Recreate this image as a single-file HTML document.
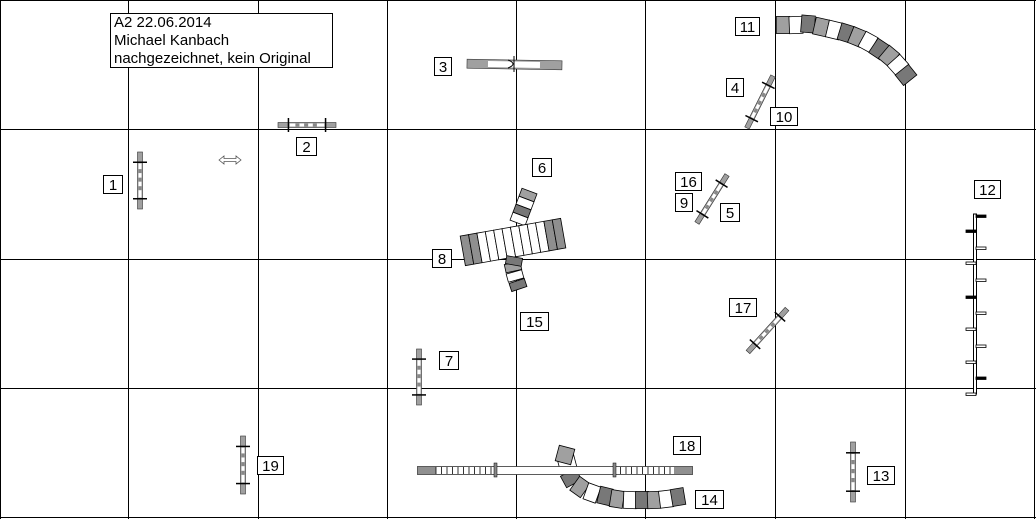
<!DOCTYPE html>
<html><head><meta charset="utf-8">
<style>
html,body{margin:0;padding:0;background:#fff;}
svg{display:block;}
text{font-family:"Liberation Sans",sans-serif;font-size:15px;fill:#000;}
</style></head>
<body>
<svg id="s" width="1036" height="519" xmlns="http://www.w3.org/2000/svg">
<rect x="0" y="0" width="1036" height="519" fill="#fff"/>
<g stroke="#000" stroke-width="1">
<line x1="0.5" y1="0" x2="0.5" y2="519"/>
<line x1="128.5" y1="0" x2="128.5" y2="519"/>
<line x1="258.5" y1="0" x2="258.5" y2="519"/>
<line x1="387.5" y1="0" x2="387.5" y2="519"/>
<line x1="516.5" y1="0" x2="516.5" y2="519"/>
<line x1="645.5" y1="0" x2="645.5" y2="519"/>
<line x1="775.5" y1="0" x2="775.5" y2="519"/>
<line x1="905.5" y1="0" x2="905.5" y2="519"/>
<line x1="1034.5" y1="0" x2="1034.5" y2="519"/>
<line x1="0" y1="0.5" x2="1036" y2="0.5"/>
<line x1="0" y1="129.5" x2="1036" y2="129.5"/>
<line x1="0" y1="259.5" x2="1036" y2="259.5"/>
<line x1="0" y1="388.5" x2="1036" y2="388.5"/>
<line x1="0" y1="517.5" x2="1036" y2="517.5"/>
</g>
<g id="objs"></g>
<g id="labels"></g>
</svg>
<script>
var NS="http://www.w3.org/2000/svg";
var O=document.getElementById('objs'),L=document.getElementById('labels');
function el(p,t,a){var e=document.createElementNS(NS,t);for(var k in a)e.setAttribute(k,a[k]);p.appendChild(e);return e;}
function seg(cx,cy,ang,w,h,fill){el(O,'rect',{x:-w/2,y:-h/2,width:w,height:h,fill:fill,stroke:'#000','stroke-width':0.8,transform:'translate('+cx+','+cy+') rotate('+ang+')'});}
var C={g:'#a0a0a0',d:'#787878',w:'#fff'};
function tunnel(pts,cols,w,h){for(var i=0;i<pts.length;i++){var p=pts[i],a;var q=pts[Math.min(i+1,pts.length-1)],r=pts[Math.max(i-1,0)];a=Math.atan2(q[1]-r[1],q[0]-r[0])*180/Math.PI;seg(p[0],p[1],a,w,h,C[cols[i]]);}}
function jump(x1,y1,x2,y2){var dx=x2-x1,dy=y2-y1,len=Math.hypot(dx,dy),a=Math.atan2(dy,dx)*180/Math.PI;
var g=el(O,'g',{transform:'translate('+x1+','+y1+') rotate('+a+')'});
el(g,'rect',{x:0,y:-2.5,width:len,height:5,fill:'#a0a0a0',stroke:'#333','stroke-width':0.6});
el(g,'rect',{x:len*0.2,y:-1.5,width:len*0.6,height:3,fill:'#fff',stroke:'none'});
for(var i=0;i<3;i++)el(g,'rect',{x:len*0.3+i*len*0.15,y:-1.5,width:len*0.07,height:3,fill:'#888'});
el(g,'line',{x1:len*0.18,y1:-7,x2:len*0.18,y2:7,stroke:'#000','stroke-width':1.5});
el(g,'line',{x1:len*0.82,y1:-7,x2:len*0.82,y2:7,stroke:'#000','stroke-width':1.5});}
function label(x,y,w,t){el(L,'rect',{x:x+0.5,y:y+0.5,width:w,height:18,fill:'#fff',stroke:'#000','stroke-width':1});var tx=el(L,'text',{x:x+w/2+0.5,y:y+15,'text-anchor':'middle'});tx.textContent=t;}

// tunnel 11
tunnel([[783,25],[796,25],[808,24],[821,27],[834,30],[846,33],[857,37],[868,42],[879,49],[889,56],[898,65],[906,75]],'gwdgwdgwdgwd',13.5,17);
// tunnel 14
tunnel([[567,463],[571,478],[580,487],[592,493],[605,496],[617,499],[630,500],[642,500],[654,500],[666,499],[678,497]],'wdgwdgwdgwd',13,17);
seg(565,455,-75,16,16,'#a0a0a0');
// tunnel 6/15 pieces
tunnel([[528,195],[525,203],[522,211],[519,219]],'gwdw',8.5,16);
tunnel([[513,267],[515,276],[518,285]],'gwd',8.5,16);
// tunnel 8 (straight)
(function(){var g=el(O,'g',{transform:'translate(513,242) rotate(-10)'});var cols=['#8f8f8f','#8f8f8f','#fff','#fff','#fff','#fff','#fff','#fff','#fff','#fff','#8f8f8f','#8f8f8f'];
for(var i=0;i<12;i++)el(g,'rect',{x:-51+i*8.5,y:-15,width:8.5,height:30,fill:cols[i],stroke:'#000','stroke-width':0.8});})();
seg(514,261,-80,8,16,'#787878');

// jumps
jump(140,152,140,209);
jump(278,125,336,125);
jump(747,128,773,76);
jump(697,223,727,175);
jump(748,352,787,309);
jump(419,349,419,405);
jump(243,436,243,494);
jump(853,442,853,502);
// 3 board
el(O,'rect',{x:467,y:60,width:95,height:9,fill:'#a0a0a0',stroke:'#333','stroke-width':0.6,transform:'rotate(1,514,64)'});
el(O,'rect',{x:488,y:61.5,width:52,height:6,fill:'#fff',transform:'rotate(1,514,64)'});
el(O,'line',{x1:514,y1:56,x2:514,y2:72,stroke:'#000','stroke-width':1});
el(O,'path',{d:'M508,60 Q518,64 508,68',fill:'none',stroke:'#000','stroke-width':1});
// 18 dogwalk
el(O,'rect',{x:417.5,y:466.5,width:275,height:8,fill:'#fff',stroke:'#333','stroke-width':0.8});
el(O,'rect',{x:418,y:467,width:18,height:7,fill:'#909090'});
el(O,'rect',{x:674,y:467,width:18,height:7,fill:'#909090'});
for(var x=436;x<495;x+=5.5)el(O,'line',{x1:x,y1:467,x2:x,y2:474,stroke:'#000','stroke-width':0.8});
for(var x=615;x<674;x+=5.5)el(O,'line',{x1:x,y1:467,x2:x,y2:474,stroke:'#000','stroke-width':0.8});
el(O,'rect',{x:494,y:463,width:3,height:14,fill:'#888',stroke:'#000','stroke-width':0.5});
el(O,'rect',{x:613,y:463,width:3,height:14,fill:'#888',stroke:'#000','stroke-width':0.5});
// 12 weave line
el(O,'rect',{x:973.5,y:214,width:3,height:180,fill:'#fff',stroke:'#000','stroke-width':1});
[[216,1],[231,-1],[248,1],[263,-1],[280,1],[297,-1],[313,1],[329,-1],[346,1],[362,-1],[378,1],[394,-1]].forEach(function(p){var x=p[1]>0?976:966;el(O,'rect',{x:x,y:p[0]-1,width:10,height:2.5,fill:p[0]%3?'#fff':'#000',stroke:'#000','stroke-width':0.8});});
// arrow
el(O,'path',{d:'M219,160 l5,-4 v2.5 h12 v-2.5 l5,4 l-5,4 v-2.5 h-12 v2.5 z',fill:'#fff',stroke:'#555','stroke-width':0.8});

// title
el(L,'rect',{x:110.5,y:13.5,width:222,height:54,fill:'#fff',stroke:'#000','stroke-width':1});
[['A2 22.06.2014',28],['Michael Kanbach',46],['nachgezeichnet, kein Original',64]].forEach(function(t){var e=el(L,'text',{x:114,y:t[1]-1});e.textContent=t[0];});
label(735,17,24,'11');label(726,78,17,'4');label(770,107,27,'10');label(434,57,17,'3');
label(296,137,20,'2');label(103,175,19,'1');label(532,158,19,'6');label(675,172,26,'16');
label(675,193,17,'9');label(720,203,19,'5');label(974,180,26,'12');label(432,249,19,'8');
label(520,312,28,'15');label(729,298,27,'17');label(439,351,19,'7');label(257,456,26,'19');
label(673,436,27,'18');label(695,490,28,'14');label(867,466,27,'13');
</script>
</body></html>
